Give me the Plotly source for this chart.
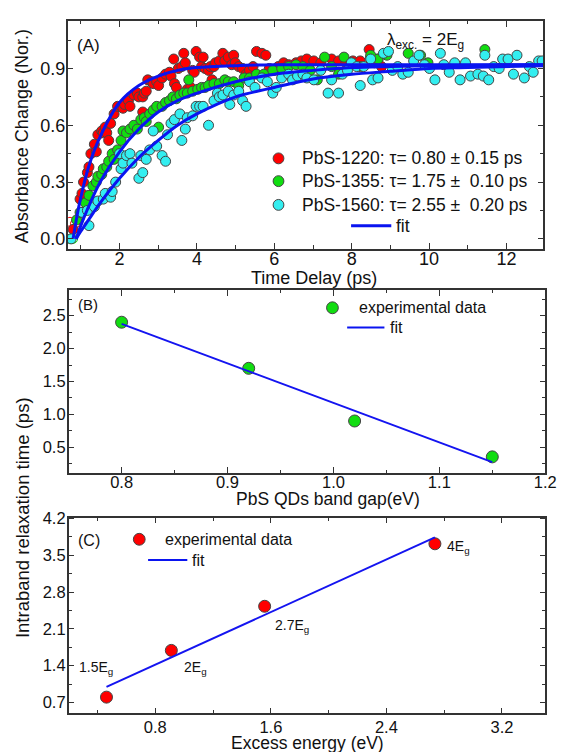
import plotly.graph_objects as go

# ---------------- Panel A data ----------------
red_x = [0.80,0.98,1.03,1.07,1.17,1.21,1.26,1.35,1.40,1.44,
         1.54,1.58,1.63,1.67,1.72,1.77,1.86,1.95,2.04,2.09,
         2.13,2.23,2.27,2.37,2.46,2.50,2.60,2.64,2.60,2.69,
         2.73,2.83,2.87,2.96,3.01,3.10,3.19,3.29,3.33,3.40,
         3.42,3.47,3.52,3.61,3.66,3.70,3.75,3.84,3.89,3.93,
         3.98,4.07,4.12,4.16,4.21,4.30,4.35,4.39,4.44,4.48,
         4.58,4.67,4.72,4.81,4.90,4.95,4.99,5.08,5.18,5.27,
         5.36,5.45,5.54,5.68,5.78,5.87,6.01,6.10,6.24,6.37,
         6.56,6.70,6.84,7.02,7.20,7.48,7.66,7.85,8.03,8.22,
         8.45,8.49,8.59,8.68,8.77]
red_y = [0.05,0.21,0.24,0.30,0.35,0.38,0.45,0.50,0.46,0.55,
         0.57,0.56,0.59,0.56,0.52,0.61,0.66,0.70,0.70,0.69,
         0.71,0.73,0.70,0.76,0.77,0.75,0.75,0.77,0.67,0.78,
         0.84,0.83,0.82,0.83,0.81,0.85,0.87,0.88,0.86,0.95,
         0.82,0.80,0.90,0.91,0.98,0.93,0.79,0.80,0.89,0.88,
         0.99,0.96,0.91,0.96,0.90,0.89,0.91,0.84,0.91,0.93,
         0.94,0.98,0.94,0.96,0.92,0.97,0.93,0.91,0.90,0.87,
         0.89,0.91,0.99,0.98,0.97,0.90,0.89,0.91,0.93,0.92,
         0.93,0.94,0.95,0.94,0.93,0.95,0.94,0.93,0.94,0.94,
         1.00,0.96,0.93,0.95,0.91]

green_x = [0.89,0.98,1.12,1.21,1.31,1.40,1.44,1.54,1.58,1.67,
           1.72,1.81,1.86,1.95,2.04,2.09,2.18,2.27,2.37,2.46,
           2.55,2.64,2.69,2.78,2.87,2.96,3.01,3.10,3.19,3.29,
           3.38,3.47,3.56,3.66,3.75,3.79,3.89,4.02,4.12,4.21,
           4.30,4.44,4.58,4.72,4.81,4.95,5.08,5.22,5.36,5.54,
           5.73,5.96,6.19,6.37,6.56,6.74,6.93,7.11,7.30,7.48,
           7.66,7.80,7.99,8.22,8.49,8.68,8.91,9.46,9.78,9.97,
           11.44]
green_y = [0.10,0.14,0.19,0.23,0.28,0.30,0.33,0.34,0.37,0.38,
           0.41,0.45,0.42,0.47,0.52,0.57,0.56,0.58,0.60,0.58,
           0.63,0.64,0.62,0.66,0.68,0.70,0.59,0.70,0.72,0.73,
           0.75,0.74,0.76,0.77,0.77,0.84,0.78,0.79,0.80,0.80,
           0.81,0.82,0.82,0.84,0.83,0.83,0.81,0.85,0.85,0.87,
           0.87,0.89,0.90,0.91,0.92,0.91,0.89,0.84,0.96,0.91,
           0.87,0.96,0.93,0.91,0.97,0.95,0.97,0.98,0.97,0.93,
           1.00]

cyan_x = [0.75,1.03,1.17,1.21,1.35,1.44,1.58,1.63,1.77,1.81,
          1.90,2.00,2.04,2.09,2.18,2.27,2.32,2.50,2.60,2.55,
          2.69,2.78,2.87,2.96,3.10,3.19,3.24,3.33,3.42,3.56,
          3.61,3.70,3.75,3.89,3.98,4.07,4.16,4.30,4.44,4.53,
          4.58,4.67,4.81,4.85,4.95,5.08,5.18,5.27,5.36,5.50,
          5.68,5.82,5.96,6.05,6.19,6.37,6.47,6.60,6.74,6.84,
          7.02,7.20,7.39,7.48,7.66,7.76,7.89,7.99,8.13,8.22,
          8.31,8.49,8.54,8.68,8.82,8.95,9.05,9.19,9.32,9.46,
          9.60,9.74,9.88,10.01,10.15,10.29,10.38,10.52,10.66,10.80,
          10.94,11.07,11.26,11.40,11.44,11.54,11.67,11.81,11.90,12.04,
          12.18,12.27,12.46,12.59,12.69,12.83,12.92]
cyan_y = [0.00,0.14,0.15,0.07,0.17,0.20,0.21,0.24,0.22,0.25,
          0.30,0.45,0.37,0.40,0.44,0.45,0.40,0.32,0.35,0.44,
          0.42,0.47,0.57,0.49,0.44,0.41,0.55,0.61,0.63,0.66,
          0.52,0.58,0.64,0.65,0.70,0.70,0.70,0.60,0.73,0.77,
          0.75,0.76,0.78,0.71,0.76,0.78,0.73,0.70,0.83,0.80,
          0.85,0.83,0.77,0.80,0.85,0.87,0.84,0.86,0.87,0.85,
          0.84,0.89,0.77,0.84,0.77,0.87,0.89,0.93,0.91,0.81,
          0.91,0.95,0.84,0.85,0.98,0.99,0.89,0.91,0.87,0.88,
          0.94,0.97,0.92,0.90,0.84,0.98,0.92,0.88,0.93,0.84,
          0.93,0.86,0.87,0.86,0.97,0.84,0.91,0.90,0.95,0.95,
          0.87,0.97,0.85,0.91,0.88,0.94,0.94]

# hollow points near time zero
open_x = [0.72, 0.72, 0.85, 0.80]
open_y = [0.09, 0.00, 0.08, 0.00]
open_col = ["#ff0000", "#11dd11", "#ff0000", "#11dd11"]

fit1220_x = [0.80,0.90,1.00,1.20,1.50,2.00,2.50,3.00,3.50,4.00,5.00,6.00,8.00,10.0,13.0]
fit1220_y = [0.00,0.12,0.22,0.38,0.54,0.72,0.81,0.86,0.89,0.905,0.915,0.92,0.92,0.92,0.92]
fit1355_x = [0.88,1.00,1.20,1.50,2.00,2.50,3.00,3.50,4.00,5.00,6.00,7.00,8.00,10.0,13.0]
fit1355_y = [0.00,0.07,0.17,0.30,0.46,0.58,0.67,0.73,0.77,0.83,0.87,0.89,0.905,0.915,0.92]
fit1560_x = [0.88,1.00,1.20,1.50,2.00,2.50,3.00,3.50,4.00,5.00,6.00,7.00,8.00,9.00,10.0,11.0,13.0]
fit1560_y = [0.00,0.04,0.10,0.19,0.32,0.43,0.52,0.60,0.66,0.75,0.80,0.845,0.87,0.885,0.90,0.905,0.915]

legend_A = ["PbS-1220: τ= 0.80 ± 0.15 ps",
            "PbS-1355: τ= 1.75 ±  0.10 ps",
            "PbS-1560: τ= 2.55 ±  0.20 ps",
            "fit"]

# ---------------- Panel B data ----------------
gap_x = [0.80, 0.92, 1.02, 1.15]
gap_tau = [2.40, 1.70, 0.90, 0.355]
gapfit_x = [0.80, 1.15]
gapfit_y = [2.375, 0.275]

# ---------------- Panel C data ----------------
exc_x = [0.462, 0.911, 1.557, 2.736]
exc_tau = [0.80, 1.69, 2.53, 3.72]
excfit_x = [0.462, 2.736]
excfit_y = [0.994, 3.843]
exc_labels = ["1.5E<sub>g</sub>", "2E<sub>g</sub>", "2.7E<sub>g</sub>", "4E<sub>g</sub>"]
exc_label_x = [0.39, 1.075, 1.745, 2.90]
exc_label_y = [1.36, 1.36, 2.15, 3.66]

FONT = "Liberation Sans, Arial, sans-serif"
AX = "#333333"
OUT = "#444444"
RED, GREEN, CYAN, BLUE = "#ff0000", "#11dd11", "#33eef0", "#0a14f0"
W, H = 569, 752

def px(x):
    return x / W

def py(y):
    return 1 - y / H

fig = go.Figure()

def mk(color, size):
    return dict(color=color, size=size, line=dict(color=OUT, width=1))

# Panel A
fig.add_trace(go.Scatter(x=open_x, y=open_y, mode="markers",
                         marker=dict(size=9, color="white", line=dict(color=open_col, width=1)),
                         xaxis="x", yaxis="y"))
fig.add_trace(go.Scatter(x=red_x, y=red_y, mode="markers", name=legend_A[0],
                         marker=mk(RED, 10), xaxis="x", yaxis="y"))
fig.add_trace(go.Scatter(x=green_x, y=green_y, mode="markers", name=legend_A[1],
                         marker=mk(GREEN, 10), xaxis="x", yaxis="y"))
fig.add_trace(go.Scatter(x=cyan_x, y=cyan_y, mode="markers", name=legend_A[2],
                         marker=mk(CYAN, 10), xaxis="x", yaxis="y"))
for fx, fy in [(fit1220_x, fit1220_y), (fit1355_x, fit1355_y), (fit1560_x, fit1560_y)]:
    fig.add_trace(go.Scatter(x=fx, y=fy, mode="lines", name=legend_A[3],
                             line=dict(color=BLUE, width=3, shape="spline", smoothing=0.8),
                             xaxis="x", yaxis="y"))

# Panel B
fig.add_trace(go.Scatter(x=gap_x, y=gap_tau, mode="markers", name="experimental data",
                         marker=mk(GREEN, 12), xaxis="x2", yaxis="y2"))
fig.add_trace(go.Scatter(x=gapfit_x, y=gapfit_y, mode="lines", name="fit",
                         line=dict(color="#1414f0", width=2), xaxis="x2", yaxis="y2"))

# Panel C
fig.add_trace(go.Scatter(x=exc_x, y=exc_tau, mode="markers", name="experimental data",
                         marker=mk(RED, 12), xaxis="x3", yaxis="y3"))
fig.add_trace(go.Scatter(x=excfit_x, y=excfit_y, mode="lines", name="fit",
                         line=dict(color="#1414f0", width=2), xaxis="x3", yaxis="y3"))

def axis(domain, rng, dtick, minor_dtick, anchor, size, standoff, fmt=None):
    d = dict(domain=domain, range=rng, anchor=anchor, showgrid=False, zeroline=False,
             showline=True, linecolor=AX, linewidth=1.5, mirror="ticks",
             ticks="inside", ticklen=6, tickwidth=1.3, tickcolor=AX,
             tickfont=dict(family=FONT, size=size, color="#111"),
             ticklabelstandoff=standoff,
             minor=dict(ticks="inside", ticklen=3.5, tickwidth=1.2, tickcolor=AX, dtick=minor_dtick),
             dtick=dtick)
    if fmt:
        d["tickformat"] = fmt
    return d

xA = [69 / W, 554 / W]
xBC = [70 / W, 556 / W]
yA = [py(243.3), py(13.3)]
yB = [py(470), py(285)]
yC = [py(713), py(515)]

xa = axis(xA, [0.66, 12.95], 2, 1, "y", 18, -7)
xa.update(tick0=0)
ya = axis(yA, [-0.052, 1.15], 0.3, 0.15, "x", 18, -3, ".1f")
ya.update(tick0=0)
xb = axis(xBC, [0.75, 1.2], 0.1, 0.05, "y2", 16.5, -7, ".1f")
xb.update(tick0=0.8)
yb = axis(yB, [0.11, 2.89], 0.5, 0.25, "x2", 16.5, -2, ".1f")
yb.update(tick0=0.5)
xc = axis(xBC, [0.2, 3.5], 0.8, 0.4, "y3", 16.5, -2, ".1f")
xc.update(tick0=0.8)
yc = axis(yC, [0.49, 4.22], 0.7, 0.35, "x3", 16.5, -2, ".1f")
yc.update(tick0=0.7)

ann = []
shapes = []

def note(text, x, y, size, xanchor="center", yanchor="middle", textangle=0):
    ann.append(dict(text=text, x=px(x), y=py(y), xref="paper", yref="paper",
                    showarrow=False, xanchor=xanchor, yanchor=yanchor, textangle=textangle,
                    font=dict(family=FONT, size=size, color="#111")))

def leg_marker(cx, cy, d, color):
    r = d / 2
    shapes.append(dict(type="circle", xref="paper", yref="paper",
                       x0=px(cx - r), x1=px(cx + r), y0=py(cy + r), y1=py(cy - r),
                       fillcolor=color, line=dict(color=OUT, width=1)))

def leg_line(x0, x1, y, width):
    shapes.append(dict(type="line", xref="paper", yref="paper",
                       x0=px(x0), x1=px(x1), y0=py(y), y1=py(y),
                       line=dict(color=BLUE, width=width)))

note("Absorbance Change (Nor.)", 22, 130, 18, textangle=-90)
note("Time Delay (ps)", 320, 273, 18)
note("(A)", 76, 38, 17, xanchor="left")
note("λ<sub>exc.</sub> = 2E<sub>g</sub>", 393, 33, 17, xanchor="left")
note("(B)", 77, 300, 15, xanchor="left")
note("PbS QDs band gap(eV)", 334, 496, 17.5)
note("(C)", 77, 538, 16, xanchor="left")
note("Excess energy (eV)", 314, 743, 17.5)
note("Intraband relaxation time (ps)", 23, 515, 18.5, textangle=-90)

# legend A
for row_y, col, txt in zip([152, 175, 199], [RED, GREEN, CYAN], legend_A[:3]):
    leg_marker(284, row_y, 11, col)
    note(txt, 306, row_y, 17.5, xanchor="left")
leg_line(358, 399, 220, 3)
note(legend_A[3], 402, 220, 17.5, xanchor="left")

# legend B
leg_marker(339, 303, 12, GREEN)
note("experimental data", 364, 303, 16, xanchor="left")
leg_line(354, 392, 323, 2)
note("fit", 396, 323, 16, xanchor="left")

# legend C
leg_marker(142, 537, 12, RED)
note("experimental data", 166, 537, 16, xanchor="left")
leg_line(151, 191, 558, 2)
note("fit", 194, 558, 16, xanchor="left")

for t, lx, ly in zip(exc_labels, exc_label_x, exc_label_y):
    ann.append(dict(text=t, x=lx, y=ly, xref="x3", yref="y3", showarrow=False,
                    xanchor="center", yanchor="middle",
                    font=dict(family=FONT, size=14, color="#111")))

fig.update_layout(
    width=W, height=H, margin=dict(l=0, r=0, t=0, b=0),
    paper_bgcolor="white", plot_bgcolor="white",
    xaxis=xa, yaxis=ya, xaxis2=xb, yaxis2=yb, xaxis3=xc, yaxis3=yc,
    annotations=ann, shapes=shapes,
    showlegend=False,
)

fig.write_html("out.html")
